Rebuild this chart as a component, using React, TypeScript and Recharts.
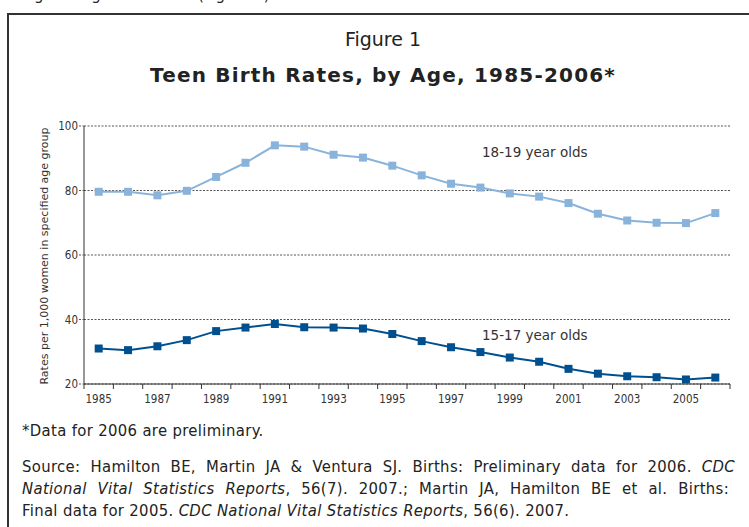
import React from 'react';
import { LineChart, Line, XAxis, YAxis, CartesianGrid } from 'recharts';

// Teen birth rates per 1,000 women, by age group
const years = [
  1985, 1986, 1987, 1988, 1989, 1990, 1991, 1992, 1993, 1994, 1995,
  1996, 1997, 1998, 1999, 2000, 2001, 2002, 2003, 2004, 2005, 2006,
];
const rate1819 = [
  79.6, 79.6, 78.5, 79.9, 84.2, 88.6, 94.0, 93.6, 91.1, 90.2, 87.7,
  84.7, 82.1, 80.9, 79.1, 78.1, 76.1, 72.8, 70.7, 70.0, 69.9, 73.0,
];
const rate1517 = [
  31.0, 30.5, 31.7, 33.6, 36.4, 37.5, 38.6, 37.6, 37.5, 37.2, 35.5,
  33.3, 31.4, 29.9, 28.2, 26.9, 24.7, 23.2, 22.4, 22.1, 21.4, 22.0,
];
const yTicks = [20, 40, 60, 80, 100];

const data = years.map((year, i) => ({
  year,
  older: rate1819[i],
  younger: rate1517[i],
}));

// tick marks sit between years, labels on odd years
const xTicks: number[] = [years[0] - 0.5];
years.forEach((y) => {
  xTicks.push(y, y + 0.5);
});

const LIGHT = '#8ab3db';
const DARK = '#00508f';
const FONT = '"DejaVu Sans", sans-serif';
const COND = '"DejaVu Sans Condensed", "DejaVu Sans", sans-serif';

const SquareDot = (color: string, size: number) => (props: any) => {
  const { cx, cy, index } = props;
  if (cx == null || cy == null) return null;
  return (
    <rect
      key={index}
      x={cx - size / 2}
      y={cy - size / 2}
      width={size}
      height={size}
      fill={color}
    />
  );
};

const YearTick = (props: any) => {
  const { x, y, payload } = props;
  const v = payload.value as number;
  if (v % 1 !== 0) {
    return <line x1={x} y1={y} x2={x} y2={y + 5} stroke="#333" strokeWidth={1} />;
  }
  if (v % 2 === 0) return null;
  return (
    <text x={x} y={y + 19} textAnchor="middle" fontSize={11.5} fill="#333" fontFamily={COND}>
      {v}
    </text>
  );
};

const YLabel = (props: any) => {
  const { viewBox } = props;
  const cy = viewBox.y + viewBox.height / 2 + 1;
  return (
    <text
      x={45}
      y={cy}
      transform={`rotate(-90 45 ${cy})`}
      textAnchor="middle"
      dominantBaseline="middle"
      fontSize={11}
      fill="#333"
      fontFamily={FONT}
    >
      Rates per 1,000 women in specified age group
    </text>
  );
};

const footLine: React.CSSProperties = {
  position: 'absolute',
  left: 22,
  width: 713,
  fontSize: 16.5,
  letterSpacing: 0.35,
  fontFamily: COND,
  whiteSpace: 'nowrap',
  lineHeight: '20px',
};

const justified: React.CSSProperties = {
  whiteSpace: 'normal',
  textAlign: 'justify',
  textAlignLast: 'justify',
};

export default function App() {
  return (
    <div
      style={{
        position: 'fixed',
        left: 0,
        top: 0,
        width: 749,
        height: 527,
        overflow: 'hidden',
        background: '#fff',
        fontFamily: FONT,
        color: '#222',
      }}
    >
      <div style={{ position: 'absolute', left: 34, top: -14, fontSize: 15, whiteSpace: 'nowrap' }}>
        g teenage birth rates (Figure 1)
      </div>
      <div
        style={{
          position: 'absolute',
          left: 7,
          top: 13,
          width: 900,
          height: 700,
          border: '2px solid #333',
          boxSizing: 'border-box',
          background: 'transparent',
        }}
      />
      <div
        style={{
          position: 'absolute',
          left: 0,
          width: 766,
          top: 28,
          textAlign: 'center',
          fontSize: 19,
        }}
      >
        Figure 1
      </div>
      <div
        style={{
          position: 'absolute',
          left: 0,
          width: 766,
          top: 63,
          textAlign: 'center',
          fontSize: 20,
          fontWeight: 'bold',
          letterSpacing: 1.2,
        }}
      >
        Teen Birth Rates, by Age, 1985-2006*
      </div>

      <div style={{ position: 'absolute', left: 0, top: 0 }}>
        <LineChart
          width={749}
          height={414}
          data={data}
          margin={{ top: 126, right: 19, bottom: 0, left: 0 }}
        >
          <CartesianGrid
            horizontal
            vertical={false}
            stroke="#555"
            strokeDasharray="2 1.5"
          />
          <XAxis
            dataKey="year"
            type="number"
            domain={[years[0] - 0.5, years[years.length - 1] + 0.5]}
            ticks={xTicks}
            interval={0}
            tick={<YearTick />}
            tickLine={false}
            tickSize={0}
            tickMargin={0}
            axisLine={{ stroke: '#333', strokeWidth: 1 }}
            height={30}
          />
          <YAxis
            domain={[20, 100]}
            ticks={yTicks}
            interval={0}
            width={84}
            tickSize={5}
            tickMargin={1}
            tickLine={{ stroke: '#555', strokeDasharray: '2 1.5' }}
            axisLine={{ stroke: '#333', strokeWidth: 1 }}
            tick={{ fontSize: 11.5, fill: '#333', fontFamily: COND }}
            label={<YLabel />}
          />
          <Line
            type="linear"
            dataKey="older"
            stroke={LIGHT}
            strokeWidth={2}
            dot={SquareDot(LIGHT, 8)}
            isAnimationActive={false}
          />
          <Line
            type="linear"
            dataKey="younger"
            stroke={DARK}
            strokeWidth={2}
            dot={SquareDot(DARK, 8)}
            isAnimationActive={false}
          />
        </LineChart>
      </div>

      <div style={{ position: 'absolute', left: 482, top: 144, fontSize: 13.5, color: '#333' }}>
        18-19 year olds
      </div>
      <div style={{ position: 'absolute', left: 482, top: 327, fontSize: 13.5, color: '#333' }}>
        15-17 year olds
      </div>

      <div style={{ ...footLine, top: 421 }}>*Data for 2006 are preliminary.</div>
      <div style={{ ...footLine, ...justified, top: 457 }}>
        Source: Hamilton BE, Martin JA &amp; Ventura SJ. Births: Preliminary data for 2006. <i>CDC</i>
      </div>
      <div style={{ ...footLine, ...justified, top: 479, width: 707 }}>
        <i>National Vital Statistics Reports</i>, 56(7). 2007.; Martin JA, Hamilton BE et al. Births:
      </div>
      <div style={{ ...footLine, top: 501 }}>
        Final data for 2005. <i>CDC National Vital Statistics Reports</i>, 56(6). 2007.
      </div>
    </div>
  );
}
